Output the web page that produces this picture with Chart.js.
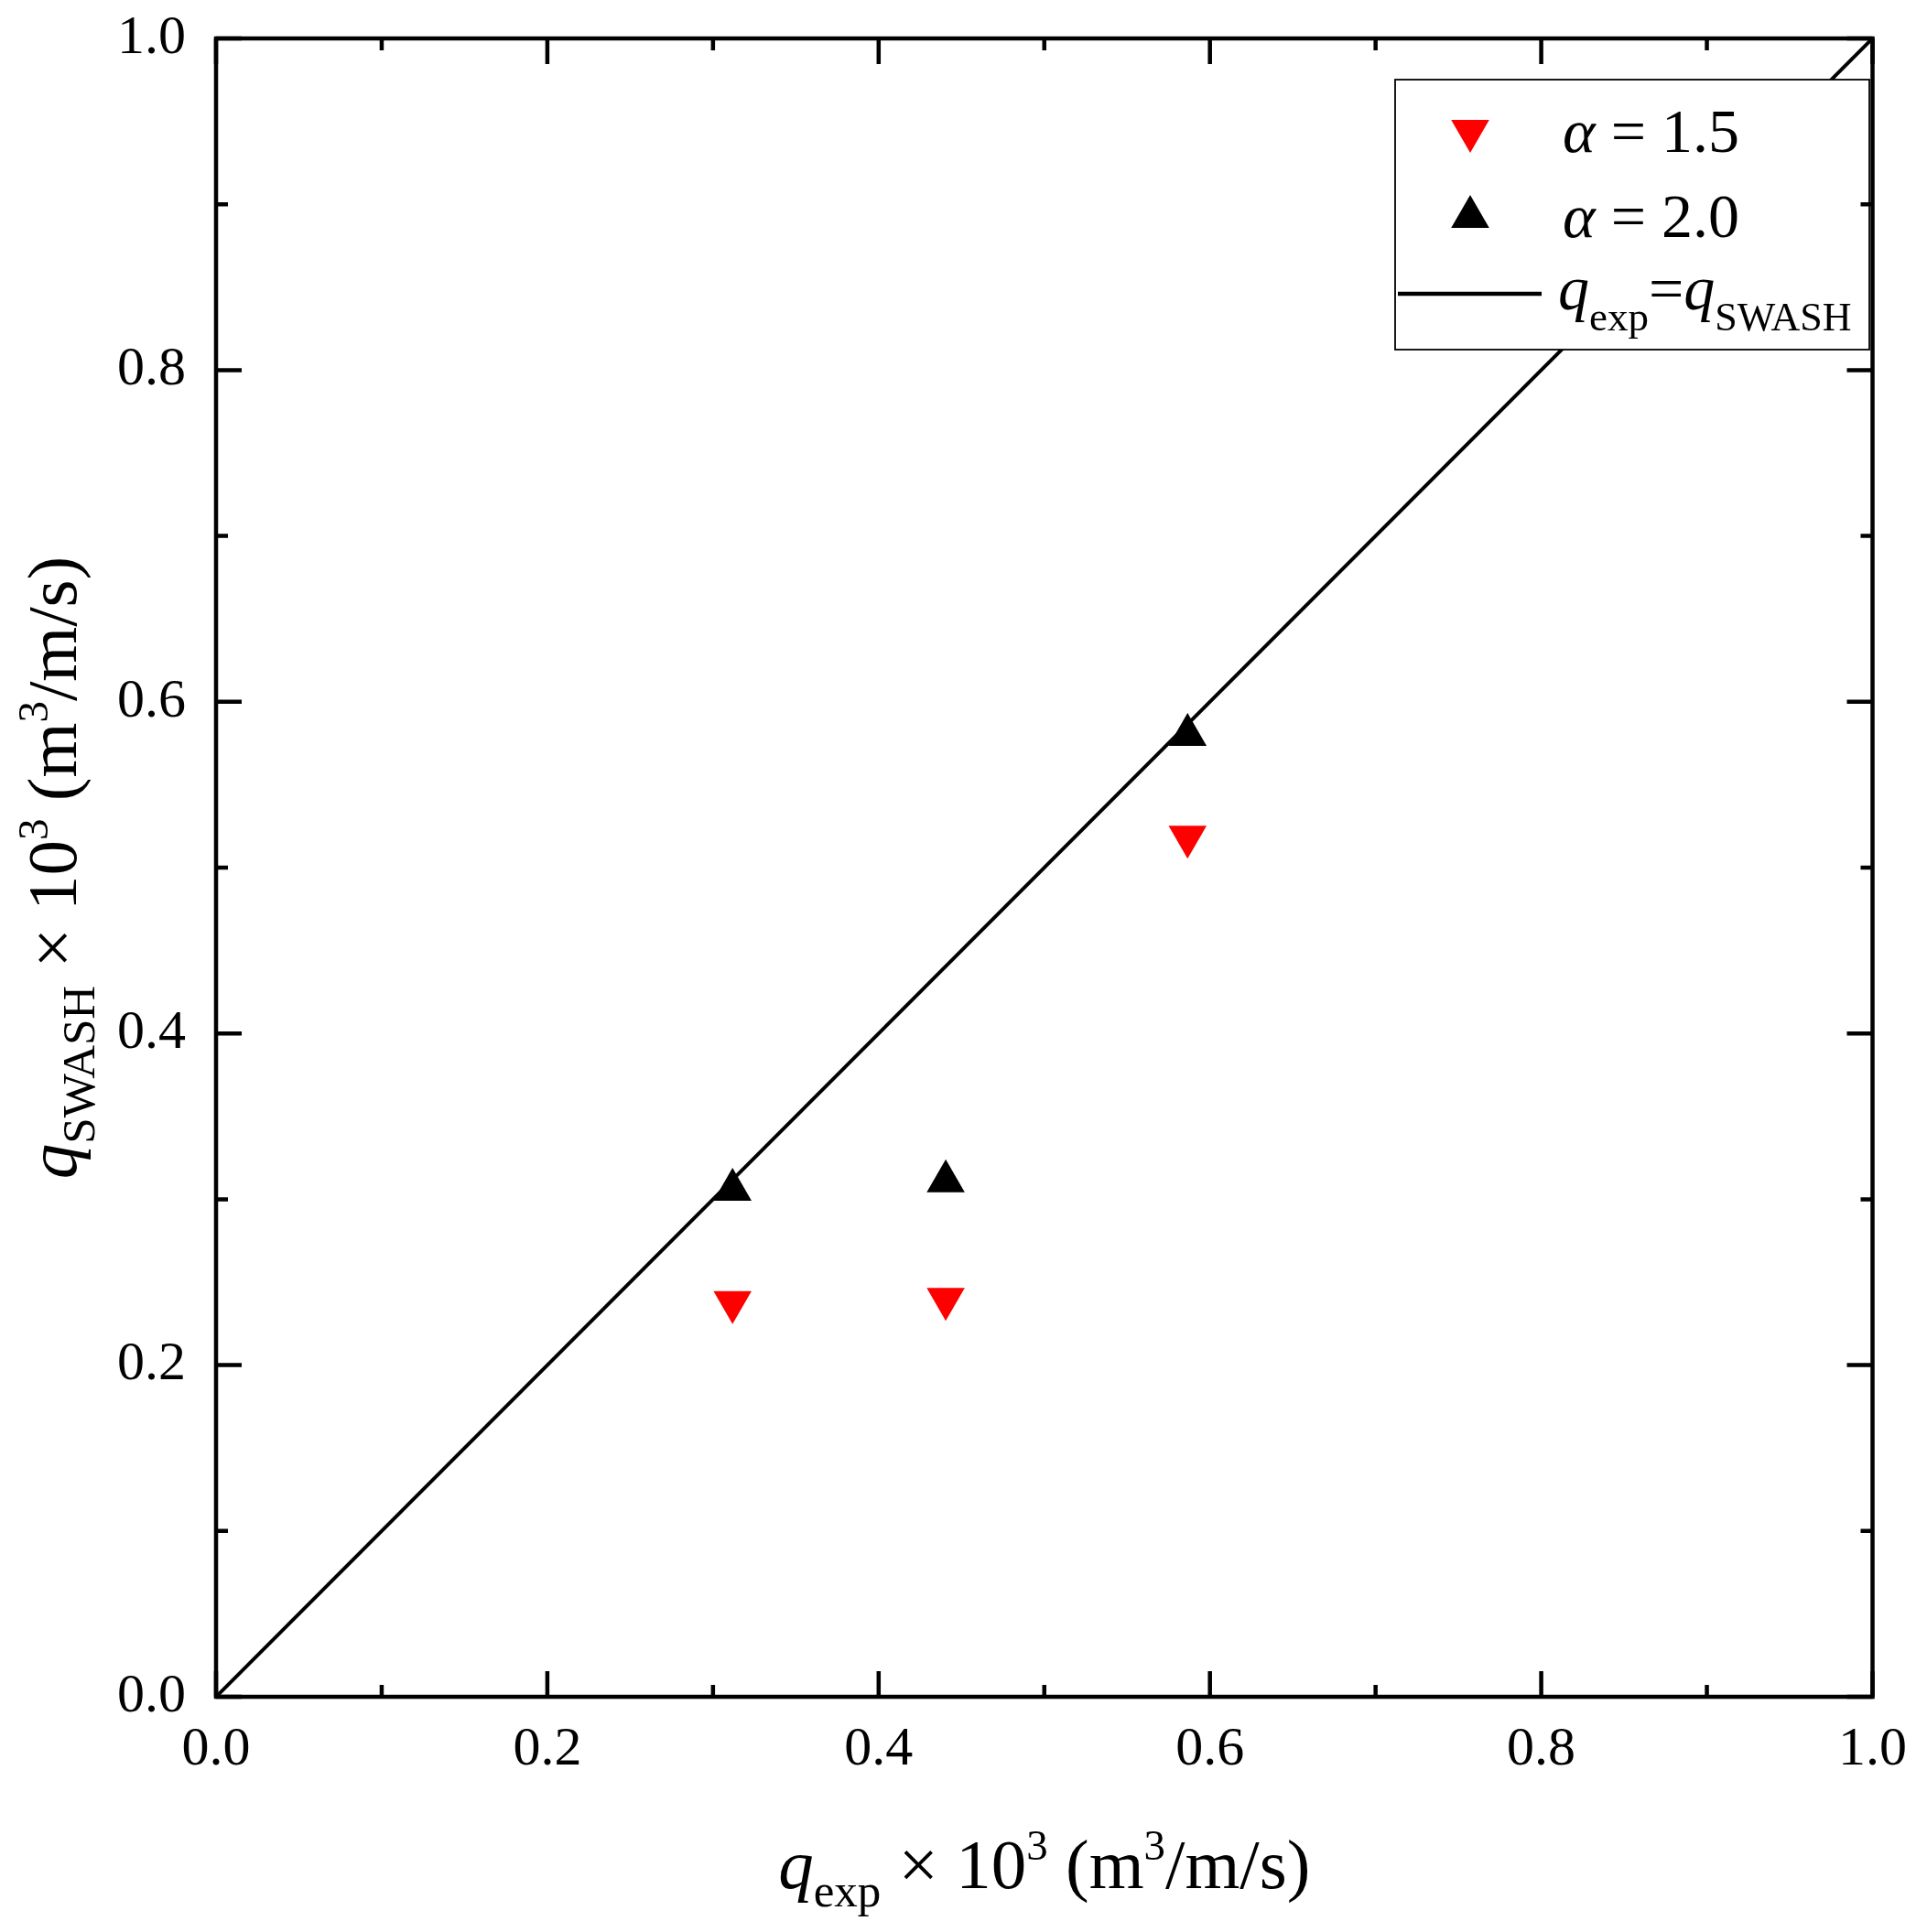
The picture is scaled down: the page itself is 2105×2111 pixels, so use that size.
<!DOCTYPE html>
<html><head><meta charset="utf-8">
<script src="https://cdn.jsdelivr.net/npm/chart.js@4.4.1/dist/chart.umd.min.js"></script>
<style>html,body{margin:0;padding:0;background:#fff;} canvas{display:block;}</style>
</head><body>
<canvas id="c" width="2105" height="2111"></canvas>
<script>
// ---- data ----
const alpha15X = [0.3118, 0.4405, 0.5865];
const alpha15Y = [0.2380, 0.2399, 0.5186];
const alpha20X = [0.3118, 0.4405, 0.5865];
const alpha20Y = [0.3057, 0.3109, 0.5800];
const lineX = [0, 1];
const lineY = [0, 1];
const tickValues = [0, 0.1, 0.2, 0.3, 0.4, 0.5, 0.6, 0.7, 0.8, 0.9, 1.0];
const tickLabels = ['0.0', '', '0.2', '', '0.4', '', '0.6', '', '0.8', '', '1.0'];
const seriesNames = ['α = 1.5', 'α = 2.0', 'q_exp = q_SWASH'];

const FONT = '"Liberation Serif", "Times New Roman", serif';
const RED = '#FF0000';
const BLACK = '#000000';

function pts(xs, ys) { return xs.map((v, i) => ({ x: v, y: ys[i] })); }

function fontStr(r) { return (r.italic ? 'italic ' : '') + r.size + 'px ' + FONT; }
function runsWidth(ctx, runs) {
  let w = 0;
  runs.forEach(r => { ctx.font = fontStr(r); w += ctx.measureText(r.t).width; });
  return w;
}
function drawRuns(ctx, runs, x, y) {
  let cx = x;
  ctx.textBaseline = 'alphabetic';
  ctx.textAlign = 'left';
  runs.forEach(r => {
    ctx.font = fontStr(r);
    ctx.fillText(r.t, cx, y + (r.dy || 0));
    cx += ctx.measureText(r.t).width;
  });
}

const xTitleRuns = [
  { t: 'q', size: 77, italic: true },
  { t: 'exp', size: 51, dy: 20 },
  { t: ' \u00D7 10', size: 77 },
  { t: '3', size: 47, dy: -31 },
  { t: ' (m', size: 77 },
  { t: '3', size: 47, dy: -31 },
  { t: '/m/s)', size: 77 }
];
const yTitleRuns = [
  { t: 'q', size: 77, italic: true },
  { t: 'SWASH', size: 51, dy: 20 },
  { t: ' \u00D7 10', size: 77 },
  { t: '3', size: 47, dy: -31 },
  { t: ' (m', size: 77 },
  { t: '3', size: 47, dy: -31 },
  { t: '/m/s)', size: 77 }
];

function drawTriangle(ctx, x, y, r, rotDeg, color) {
  if (Chart.helpers && Chart.helpers.drawPoint) {
    ctx.fillStyle = color;
    ctx.strokeStyle = color;
    Chart.helpers.drawPoint(ctx, { pointStyle: 'triangle', radius: r, rotation: rotDeg, borderWidth: 0 }, x, y);
    return;
  }
  let rad = rotDeg * Math.PI / 180;
  ctx.beginPath();
  for (let k = 0; k < 3; k++) {
    const px = x + Math.sin(rad) * r, py = y - Math.cos(rad) * r;
    if (k === 0) ctx.moveTo(px, py); else ctx.lineTo(px, py);
    rad += 2 * Math.PI / 3;
  }
  ctx.closePath();
  ctx.fillStyle = color;
  ctx.fill();
}

const decorPlugin = {
  id: 'decor',
  afterDatasetsDraw(chart) {
    const { ctx, chartArea: a, scales } = chart;
    const xs = scales.x, ys = scales.y;
    ctx.save();
    // legend box
    const L = { left: 1524, top: 87, right: 2042, bottom: 382 };
    ctx.fillStyle = '#fff';
    ctx.fillRect(L.left, L.top, L.right - L.left, L.bottom - L.top);
    ctx.lineWidth = 1.8;
    ctx.strokeStyle = BLACK;
    ctx.strokeRect(L.left, L.top, L.right - L.left, L.bottom - L.top);
    drawTriangle(ctx, 1606, 143, 24, 180, RED);
    drawTriangle(ctx, 1606, 237, 24, 0, BLACK);
    ctx.beginPath();
    ctx.lineWidth = 4.5;
    ctx.moveTo(1527, 321); ctx.lineTo(1684, 321);
    ctx.stroke();
    ctx.fillStyle = BLACK;
    drawRuns(ctx, [{ t: 'α', size: 68, italic: true }, { t: ' = 1.5', size: 68 }], 1707, 166);
    drawRuns(ctx, [{ t: 'α', size: 68, italic: true }, { t: ' = 2.0', size: 68 }], 1707, 259);
    drawRuns(ctx, [
      { t: 'q', size: 68, italic: true }, { t: 'exp', size: 45, dy: 23 },
      { t: '=', size: 68 },
      { t: 'q', size: 68, italic: true }, { t: 'SWASH', size: 44, dy: 23 }
    ], 1702, 338);

    // frame
    ctx.strokeStyle = BLACK;
    ctx.lineWidth = 4.5;
    ctx.lineCap = 'butt';
    ctx.strokeRect(a.left, a.top, a.right - a.left, a.bottom - a.top);
    // inner ticks on all sides
    ctx.beginPath();
    xs.ticks.forEach((t, i) => {
      const p = xs.getPixelForValue(t.value);
      const len = (i % 2 === 0) ? 28 : 13;
      ctx.moveTo(p, a.bottom); ctx.lineTo(p, a.bottom - len);
      ctx.moveTo(p, a.top); ctx.lineTo(p, a.top + len);
    });
    ys.ticks.forEach((t, i) => {
      const p = ys.getPixelForValue(t.value);
      const len = (i % 2 === 0) ? 28 : 13;
      ctx.moveTo(a.left, p); ctx.lineTo(a.left + len, p);
      ctx.moveTo(a.right, p); ctx.lineTo(a.right - len, p);
    });
    ctx.stroke();

    // axis titles
    ctx.fillStyle = BLACK;
    const cx = (a.left + a.right) / 2;
    const cy = (a.top + a.bottom) / 2;
    const wx = runsWidth(ctx, xTitleRuns);
    drawRuns(ctx, xTitleRuns, cx - wx / 2, 2063);
    ctx.translate(83, cy);
    ctx.rotate(-Math.PI / 2);
    const wy = runsWidth(ctx, yTitleRuns);
    drawRuns(ctx, yTitleRuns, -wy / 2, 0);
    ctx.restore();
  }
};

new Chart(document.getElementById('c'), {
  type: 'scatter',
  data: {
    datasets: [
      {
        type: 'line', label: seriesNames[2], data: pts(lineX, lineY),
        borderColor: BLACK, borderWidth: 4, pointRadius: 0, fill: false, order: 3
      },
      {
        label: seriesNames[0], data: pts(alpha15X, alpha15Y),
        pointStyle: 'triangle', rotation: 180, pointRadius: 24, pointHoverRadius: 24,
        backgroundColor: RED, borderColor: RED, borderWidth: 0, order: 2
      },
      {
        label: seriesNames[1], data: pts(alpha20X, alpha20Y),
        pointStyle: 'triangle', rotation: 0, pointRadius: 24, pointHoverRadius: 24,
        backgroundColor: BLACK, borderColor: BLACK, borderWidth: 0, order: 1
      }
    ]
  },
  options: {
    responsive: false,
    devicePixelRatio: 1,
    animation: false,
    events: [],
    layout: { padding: { left: 0, top: 42, right: 57, bottom: 0 } },
    plugins: { legend: { display: false }, tooltip: { enabled: false } },
    scales: {
      x: {
        type: 'linear', min: 0, max: 1,
        afterBuildTicks: s => { s.ticks = tickValues.map(v => ({ value: v })); },
        afterFit: s => { s.height = 257; },
        grid: { display: false, drawTicks: false },
        border: { display: false },
        ticks: {
          autoSkip: false, maxRotation: 0, padding: 22, color: BLACK,
          font: { family: FONT, size: 60 },
          callback: (v, i) => tickLabels[i]
        }
      },
      y: {
        type: 'linear', min: 0, max: 1,
        afterBuildTicks: s => { s.ticks = tickValues.map(v => ({ value: v })); },
        afterFit: s => { s.width = 236; },
        grid: { display: false, drawTicks: false },
        border: { display: false },
        ticks: {
          autoSkip: false, padding: 33, color: BLACK,
          font: { family: FONT, size: 60, lineHeight: 0.15 },
          callback: (v, i) => tickLabels[i]
        }
      }
    }
  },
  plugins: [decorPlugin]
});
</script>
</body></html>
